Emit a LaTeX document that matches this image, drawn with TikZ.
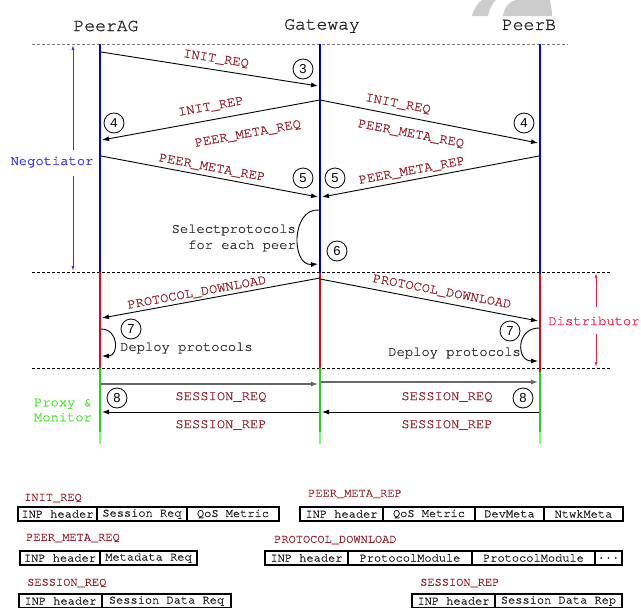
\documentclass[tikz,border=0pt]{standalone}
\usepackage{fontspec}
\setmonofont[FakeBold=0.9]{TeX Gyre Cursor}
\newfontfamily\digitfont{Liberation Sans}
\usetikzlibrary{arrows.meta}
\definecolor{lblred}{RGB}{150,30,40}
\definecolor{hdrgray}{RGB}{30,30,30}
\definecolor{notegray}{RGB}{45,45,45}
\definecolor{negblue}{RGB}{50,50,255}
\definecolor{distred}{RGB}{255,30,70}
\definecolor{pmgreen}{RGB}{70,235,40}
\definecolor{lifegreen}{RGB}{30,215,20}
\definecolor{lightgreen}{RGB}{120,255,120}
\definecolor{lifered}{RGB}{235,0,20}
\definecolor{arrgray}{RGB}{105,105,105}
\begin{document}
\begin{tikzpicture}[x=1pt,y=-1pt,
  >={Latex[length=7pt,width=5pt]},
  hdr/.style={font=\ttfamily\fontsize{18}{20}\selectfont, text=hdrgray, inner sep=0pt},
  lbl/.style={font=\ttfamily\fontsize{13.8}{16}\selectfont, text=lblred, inner sep=0pt},
  note/.style={font=\ttfamily\fontsize{13.8}{16}\selectfont, text=notegray, inner sep=0pt, align=right},
  num/.style={circle, draw, line width=0.8pt, minimum size=20pt, inner sep=0pt, font=\digitfont\fontsize{13}{13}\selectfont},
  msg/.style={->, line width=0.9pt},
  grmsg/.style={->, line width=1.3pt, arrgray},
  life/.style={line width=2.6pt},
  sep/.style={dash pattern=on 3pt off 2pt, line width=0.8pt},
  cell/.style={draw, line width=1.2pt, minimum height=14pt, inner sep=0pt, outer sep=0pt, anchor=west, font=\ttfamily\fontsize{12}{12}\selectfont, text=hdrgray},
  tlbl/.style={font=\ttfamily\fontsize{12}{12}\selectfont, text=lblred, anchor=west, inner sep=0pt},
  side/.style={font=\ttfamily\fontsize{13.8}{15}\selectfont, inner sep=0pt, align=left}]
\useasboundingbox (0,0) rectangle (641,608);
\clip (0,0) rectangle (641,608);

% light gray mark at the top right
\fill[black!20] (472,16) .. controls (474,8) and (478,3) .. (482,0) -- (496,0) .. controls (492,4) and (489,10) .. (488,16) -- cycle;
\fill[black!20] (503,16) .. controls (504,7) and (510,1) .. (516,0) -- (550,0) .. controls (551,5) and (552,10) .. (552,16) -- cycle;

% headers
\node[hdr] (hA) at (106,26) {PeerAG};
\node[hdr] (hG) at (322,26) {Gateway};
\node[hdr] (hB) at (529,25) {PeerB};

% separator lines
\coordinate (s1l) at (32,44);  \coordinate (s1r) at (568,44);
\coordinate (s2l) at (32,272); \coordinate (s2r) at (610,272);
\coordinate (s3l) at (32,368); \coordinate (s3r) at (610,368);
\draw[sep, gray, line width=1pt] (s1l) -- (s1r);
\draw[sep, black] (s2l) -- (s2r);
\draw[sep, black] (s3l) -- (s3r);

% lifelines
\coordinate (A0) at (100,44);  \coordinate (A1) at (100,272); \coordinate (A2) at (100,368); \coordinate (A3) at (100,432); \coordinate (A4) at (100,444);
\coordinate (G0) at (320,44);  \coordinate (G1) at (320,273); \coordinate (G2) at (320,368); \coordinate (G3) at (320,432); \coordinate (G4) at (320,444);
\coordinate (B0) at (540,44);  \coordinate (B1) at (540,274); \coordinate (B2) at (540,372); \coordinate (B3) at (540,432); \coordinate (B4) at (540,444);
\draw[life, blue] (A0) -- (A1);
\draw[life, lifered] (A1) -- (A2);
\draw[life, lifegreen] (A2) -- (A3);
\draw[life, lightgreen] (A3) -- (A4);
\draw[life, blue] (G0) -- (G1);
\draw[line width=1pt, black!80!blue] ([xshift=-1pt]G0) -- ([xshift=-1pt]G1);
\draw[life, lifered] (G1) -- (G2);
\draw[life, lifegreen] (G2) -- (G3);
\draw[life, lightgreen] (G3) -- (G4);
\draw[life, blue] (B0) -- (B1);
\draw[life, lifered] (B1) -- (B2);
\draw[life, lifegreen] (B2) -- (B3);
\draw[life, lightgreen] (B3) -- (B4);

% side phases
\node[side, text=negblue] (neg) at (52,162) {Negotiator};
\coordinate (n0) at (73,45);  \coordinate (n1) at (73,150);
\coordinate (n2) at (73,176); \coordinate (n3) at (73,271);
\draw[->, negblue, line width=0.8pt, >={Latex[length=5pt,width=3pt]}] (n1) -- (n0);
\draw[->, negblue, line width=0.8pt, >={Latex[length=5pt,width=3pt]}] (n2) -- (n3);
\node[side, text=distred] (dist) at (594,321) {Distributor};
\coordinate (r0) at (596,273); \coordinate (r1) at (596,307);
\coordinate (r2) at (596,334); \coordinate (r3) at (596,367);
\draw[->, distred, line width=0.8pt, >={Latex[length=5pt,width=3pt]}] (r1) -- (r0);
\draw[->, distred, line width=0.8pt, >={Latex[length=5pt,width=3pt]}] (r2) -- (r3);
\node[side, text=pmgreen] (pm) at (63,410) {Proxy \&\\Monitor};

% messages: negotiation
\coordinate (m1s) at (101,52);  \coordinate (m1e) at (318,86);
\coordinate (m2s) at (320,100); \coordinate (m2e) at (102,140);
\coordinate (m3s) at (320,100); \coordinate (m3e) at (538,143);
\coordinate (m4s) at (101,156); \coordinate (m4e) at (318,197);
\coordinate (m5s) at (539,156); \coordinate (m5e) at (322,197);
\draw[msg] (m1s) -- (m1e);
\draw[msg] (m2s) -- (m2e);
\draw[msg] (m3s) -- (m3e);
\draw[msg] (m4s) -- (m4e);
\draw[msg] (m5s) -- (m5e);
\node[lbl, rotate=-8.9] (l1) at (216,59) {INIT\_REQ};
\node[lbl, rotate=10.4] (l2) at (211,107) {INIT\_REP};
\node[lbl, rotate=10.4] (l2b) at (248,134) {PEER\_META\_REQ};
\node[lbl, rotate=-10.8] (l3) at (398,104) {INIT\_REQ};
\node[lbl, rotate=-10.8] (l3b) at (411,134) {PEER\_META\_REQ};
\node[lbl, rotate=-10.6] (l4) at (212,168) {PEER\_META\_REP};
\node[lbl, rotate=10.6] (l5) at (412,171) {PEER\_META\_REP};
\node[num] (c3) at (303,69) {3};
\node[num] (c4a) at (114,123) {4};
\node[num] (c4b) at (524,123) {4};
\node[num] (c5a) at (303,178) {5};
\node[num] (c5b) at (335,178) {5};

% select protocols
\coordinate (sp0) at (319,210); \coordinate (sp1) at (318,264);
\draw[msg] (sp0) .. controls (291,208) and (291,266) .. (sp1);
\node[note, anchor=east] (selt) at (296,238) {Selectprotocols\\for each peer};
\node[num] (c6) at (337,251) {6};

% distribution
\coordinate (m7s) at (320,278); \coordinate (m7e) at (102,318);
\coordinate (m8s) at (320,279); \coordinate (m8e) at (538,321);
\draw[msg] (m7s) -- (m7e);
\draw[msg] (m8s) -- (m8e);
\node[lbl, rotate=10.4] (l7) at (197,293) {PROTOCOL\_DOWNLOAD};
\node[lbl, rotate=-10.8] (l8) at (442,292) {PROTOCOL\_DOWNLOAD};
\coordinate (dl0) at (101,329); \coordinate (dl1) at (102,356);
\draw[msg] (dl0) .. controls (119,329) and (119,356) .. (dl1);
\coordinate (dr0) at (539,328); \coordinate (dr1) at (538,361);
\draw[msg] (dr0) .. controls (516,328) and (516,361) .. (dr1);
\node[num] (c7a) at (131,329) {7};
\node[num] (c7b) at (510,331) {7};
\node[note, anchor=west] (depl) at (120,348) {Deploy protocols};
\node[note, anchor=east] (depr) at (521,353) {Deploy protocols};

% session
\coordinate (q1s) at (101,384); \coordinate (q1e) at (318,384);
\coordinate (q2s) at (321,382); \coordinate (q2e) at (538,382);
\coordinate (p1s) at (539,412); \coordinate (p1e) at (322,412);
\coordinate (p2s) at (319,412); \coordinate (p2e) at (102,412);
\draw[grmsg] (q1s) -- (q1e);
\draw[grmsg] (q2s) -- (q2e);
\draw[msg] (p1s) -- (p1e);
\draw[msg] (p2s) -- (p2e);
\node[lbl] (lq1) at (221,397) {SESSION\_REQ};
\node[lbl] (lq2) at (447,397) {SESSION\_REQ};
\node[lbl] (lp1) at (221,425) {SESSION\_REP};
\node[lbl] (lp2) at (447,425) {SESSION\_REP};
\node[num] (c8a) at (117,398) {8};
\node[num] (c8b) at (523,398) {8};

% message formats
\node[tlbl] (t1) at (24,498) {INIT\_REQ};
\node[cell, minimum width=79pt] (t1a) at (18,514) {INP header};
\node[cell, minimum width=90pt] (t1b) at (97,514) {Session Req};
\node[cell, minimum width=92pt] (t1c) at (187,514) {QoS Metric};

\node[tlbl] (t2) at (26,538) {PEER\_META\_REQ};
\node[cell, minimum width=80pt] (t2a) at (20,558) {INP header};
\node[cell, minimum width=97pt] (t2b) at (100,558) {Metadata Req};

\node[tlbl] (t3) at (27,583) {SESSION\_REQ};
\node[cell, minimum width=83pt] (t3a) at (19,601) {INP header};
\node[cell, minimum width=129pt] (t3b) at (102,601) {Session Data Req};

\node[tlbl] (t4) at (308,494) {PEER\_META\_REP};
\node[cell, minimum width=83pt] (t4a) at (300,514) {INP header};
\node[cell, minimum width=92pt] (t4b) at (383,514) {QoS Metric};
\node[cell, minimum width=69pt] (t4c) at (475,514) {DevMeta};
\node[cell, minimum width=79pt] (t4d) at (544,514) {NtwkMeta};

\node[tlbl] (t5) at (274,540) {PROTOCOL\_DOWNLOAD};
\node[cell, minimum width=83pt] (t5a) at (265,558) {INP header};
\node[cell, minimum width=124pt] (t5b) at (348,558) {ProtocolModule};
\node[cell, minimum width=123pt] (t5c) at (472,558) {ProtocolModule};
\node[cell, minimum width=27pt] (t5d) at (595,558) {...};

\node[tlbl] (t6) at (420,583) {SESSION\_REP};
\node[cell, minimum width=83pt] (t6a) at (412,601) {INP header};
\node[cell, minimum width=127pt] (t6b) at (495,601) {Session Data Rep};
\end{tikzpicture}
\end{document}
